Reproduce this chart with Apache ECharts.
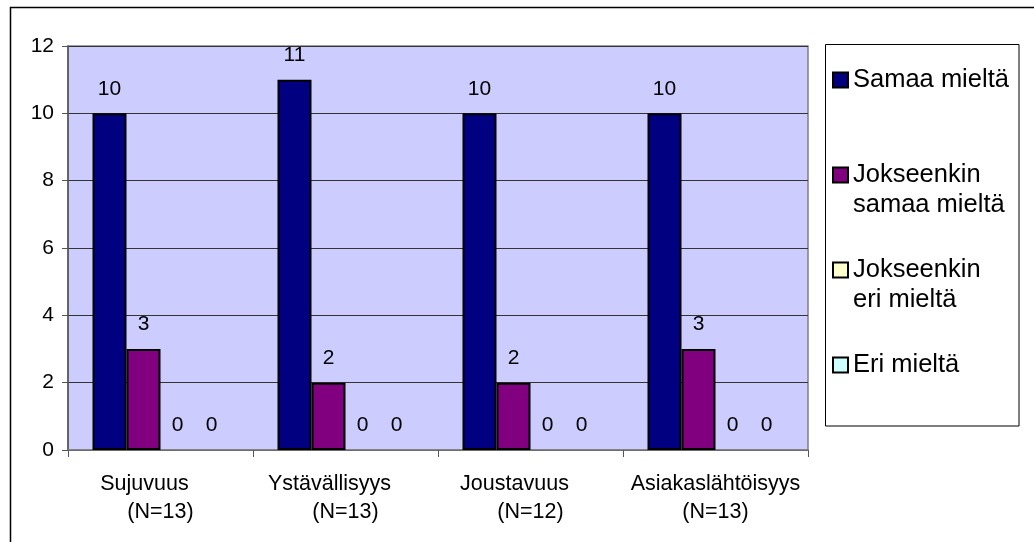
<!DOCTYPE html>
<html>
<head>
<meta charset="utf-8">
<script src="https://cdn.jsdelivr.net/npm/echarts@6/dist/echarts.min.js"></script>
<style>
  html, body { margin: 0; padding: 0; background: #fff; }
  #chart { width: 1034px; height: 542px; }
</style>
</head>
<body>
<div id="chart"></div>
<script>
// kategoriat ja vastaajamäärät
var categories = ['Sujuvuus', 'Ystävällisyys', 'Joustavuus', 'Asiakaslähtöisyys'];
var nCounts = [13, 13, 12, 13];
var yTicks = [0, 2, 4, 6, 8, 10, 12];

var samaa = [10, 11, 10, 10];
var jokseenkinSamaa = [3, 2, 2, 3];
var jokseenkinEri = [0, 0, 0, 0];
var eri = [0, 0, 0, 0];

var seriesNames = ['Samaa mieltä', 'Jokseenkin samaa mieltä', 'Jokseenkin eri mieltä', 'Eri mieltä'];
var legendText = [' \nSamaa mieltä\n ', ' \nJokseenkin\nsamaa mieltä', ' \nJokseenkin\neri mieltä', ' \nEri mieltä\n '];
var colors = ['#000080', '#800080', '#FFFFCC', '#CCFFFF'];
var values = [samaa, jokseenkinSamaa, jokseenkinEri, eri];

var font = "'Liberation Sans', Arial, sans-serif";
var chart = echarts.init(document.getElementById('chart'));

// jokainen selite omana legendinään, jotta ikoni osuu ensimmäiselle riville
var legendTops = [35, 130, 225, 320];
var legends = seriesNames.map(function (name, i) {
	return {
		orient: 'vertical',
		left: 832,
		top: legendTops[i],
		padding: 0,
		itemWidth: 15,
		itemHeight: 15,
		itemGap: 0,
		selectedMode: false,
		data: [{
			name: name,
			icon: 'rect',
			itemStyle: { color: colors[i], borderColor: '#000', borderWidth: 2 }
		}],
		formatter: function () { return legendText[i]; },
		textStyle: { fontFamily: font, fontSize: 25.5, lineHeight: 30, color: '#000' }
	};
});

var series = seriesNames.map(function (name, i) {
	return {
		name: name,
		type: 'bar',
		data: values[i],
		barWidth: 34,
		barGap: '0%',
		itemStyle: {
			color: colors[i],
			borderColor: '#000',
			borderWidth: values[i].some(function (v) { return v > 0; }) ? 2 : 0
		},
		label: {
			show: true,
			position: 'top',
			distance: 14,
			fontFamily: font,
			fontSize: 21,
			color: '#000'
		}
	};
});

var option = {
	backgroundColor: '#fff',
	animation: false,
	color: colors,
	graphic: [
		{ type: 'rect', shape: { x: 10.5, y: 7.5, width: 1100, height: 600 }, style: { fill: 'none', stroke: '#000', lineWidth: 1.5 }, silent: true },
		{ type: 'rect', shape: { x: 825.5, y: 44.5, width: 193.5, height: 381.5 }, style: { fill: '#fff', stroke: '#000', lineWidth: 1 }, silent: true, z: -1 }
	],
	legend: legends,
	grid: {
		left: 68, right: 226, top: 46, bottom: 92,
		show: true,
		backgroundColor: '#CCCCFF',
		borderColor: '#808080',
		borderWidth: 1.5
	},
	xAxis: {
		type: 'category',
		data: categories,
		axisLine: { lineStyle: { color: '#808080', width: 1.5 } },
		axisTick: { show: true, length: 7, lineStyle: { color: '#555' } },
		axisLabel: {
			interval: 0,
			margin: 20,
			formatter: function (v, idx) {
				var pad = categories[idx].length > 14 ? 'b' : 'a';
				return '{' + pad + '|' + v + '}\n{n|(N=' + nCounts[idx] + ')}';
			},
			rich: {
				a: { fontFamily: font, fontSize: 21.5, lineHeight: 28, color: '#000', padding: [0, 32, 0, 0] },
				b: { fontFamily: font, fontSize: 21.5, lineHeight: 28, color: '#000' },
				n: { fontFamily: font, fontSize: 21.5, lineHeight: 28, color: '#000' }
			}
		},
		splitLine: { show: false }
	},
	yAxis: {
		type: 'value',
		min: yTicks[0],
		max: yTicks[yTicks.length - 1],
		interval: 2,
		axisLine: { show: true, lineStyle: { color: '#555', width: 1.5 } },
		axisTick: { show: true, length: 6, lineStyle: { color: '#555' } },
		axisLabel: { margin: 14, fontFamily: font, fontSize: 21, color: '#000' },
		splitLine: { show: true, lineStyle: { color: '#333', width: 1 } }
	},
	series: series
};

chart.setOption(option);
</script>
</body>
</html>
